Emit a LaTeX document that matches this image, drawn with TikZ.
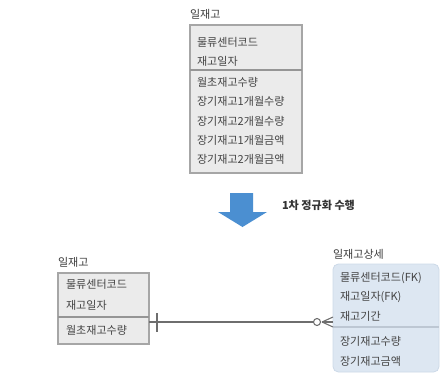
\documentclass[tikz,border=0pt]{standalone}
\usepackage{fontspec}
\setmainfont{Noto Sans CJK KR}
\definecolor{txt}{HTML}{444444}
\definecolor{graybox}{HTML}{EBEBEB}
\definecolor{grayline}{HTML}{A6A6A6}
\definecolor{bluebox}{HTML}{DDE7F2}
\definecolor{blueline}{HTML}{CCD9E8}
\definecolor{arrowblue}{HTML}{4B8FD1}
\definecolor{conn}{HTML}{6E6E6E}
\begin{document}
\begin{tikzpicture}[x=0.75pt,y=-0.75pt,
  every node/.style={inner sep=0pt,outer sep=0pt},
  attr/.style={anchor=west,text=txt,font=\fontsize{8.3}{10}\selectfont},
  ttl/.style={anchor=west,text=txt!90!black,font=\fontsize{8.3}{10}\selectfont},
  entbox/.style={draw=grayline,fill=graybox,line width=0.8pt},
  detbox/.style={draw=blueline,fill=bluebox,rounded corners=4pt,line width=0.6pt},
  divline/.style={draw=grayline!90!black,line width=0.8pt},
  connline/.style={draw=conn,line width=0.8pt}]
\useasboundingbox (0,0) rectangle (448,378);
% top entity
\node[ttl] (t0) at (190,14) {일재고};
\node[entbox,minimum width=112*0.75pt,minimum height=148*0.75pt] (top) at (246,99) {};
\coordinate (tdl) at (190,70); \coordinate (tdr) at (302,70);
\draw[divline] (tdl) -- (tdr);
\node[attr] (ta1) at (197,42) {물류센터코드};
\node[attr] (ta2) at (197,61) {재고일자};
\node[attr] (ta3) at (197,82) {월초재고수량};
\node[attr] (ta4) at (197,101) {장기재고1개월수량};
\node[attr] (ta5) at (197,121) {장기재고2개월수량};
\node[attr] (ta6) at (197,140) {장기재고1개월금액};
\node[attr] (ta7) at (197,159) {장기재고2개월금액};
% arrow
\fill[arrowblue] (230,193) -- (253,193) -- (253,212) -- (267,212) -- (242.5,227) -- (218,212) -- (230,212) -- cycle;
\node[anchor=west,text=black!80,font=\fontsize{8.3}{10}\selectfont\bfseries] (lbl) at (282,205) {1차 정규화 수행};
% bottom-left entity
\node[ttl] (l0) at (58,262) {일재고};
\node[entbox,minimum width=91*0.75pt,minimum height=71*0.75pt] (left) at (103.5,308.5) {};
\coordinate (ldl) at (58,317); \coordinate (ldr) at (149,317);
\draw[divline] (ldl) -- (ldr);
\node[attr] (la1) at (66,284) {물류센터코드};
\node[attr] (la2) at (66,305) {재고일자};
\node[attr] (la3) at (66,330) {월초재고수량};
% right entity
\node[ttl] (r0) at (333,254) {일재고상세};
\node[detbox,minimum width=106*0.75pt,minimum height=108*0.75pt] (right) at (386,318) {};
\coordinate (rdl) at (333,327); \coordinate (rdr) at (439,327);
\draw[draw=blueline!80!gray,line width=0.8pt] (rdl) -- (rdr);
\node[attr] (ra1) at (340,278) {물류센터코드(FK)};
\node[attr] (ra2) at (340,297) {재고일자(FK)};
\node[attr] (ra3) at (340,316) {재고기간};
\node[attr] (ra4) at (340,341) {장기재고수량};
\node[attr] (ra5) at (340,361) {장기재고금액};
% connector
\coordinate (cs) at (149,322);
\coordinate (ce) at (333,322);
\draw[connline] (cs) -- (313.5,322);
\coordinate (bar1) at (157,313); \coordinate (bar2) at (157,332);
\draw[connline] (bar1) -- (bar2);
\draw[connline] (317,322) circle (3.5);
\coordinate (cf) at (322,322);
\draw[connline] (cf) -- (333,317);
\draw[connline] (cf) -- (ce);
\draw[connline] (cf) -- (333,327);
\end{tikzpicture}
\end{document}
